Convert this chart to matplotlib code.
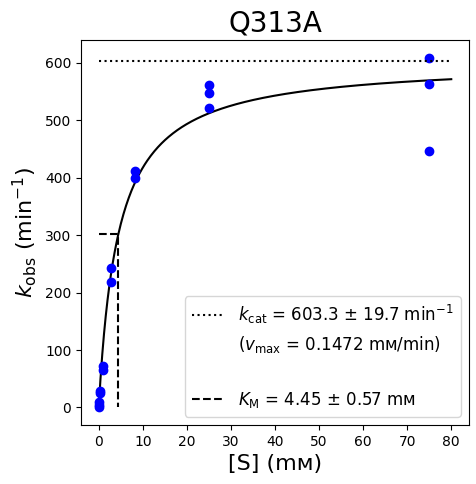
import numpy as np
import matplotlib
matplotlib.use("Agg")
import matplotlib.pyplot as plt

title = "Q313A"
substrate = [0.03, 0.03, 0.1, 0.2, 0.2, 0.9, 0.9, 2.7, 2.7, 8.3, 8.3, 25, 25, 25, 75, 75, 75]
kobs = [0, 5, 10, 26, 28, 66, 73, 219, 243, 400, 412, 522, 548, 562, 447, 563, 609]
kcat = 603.3
kcat_err = 19.7
vmax = 0.1472
KM = 4.45
KM_err = 0.57
x_max = 80

fig = plt.figure(figsize=(4.77, 4.84), dpi=100)
ax = fig.add_axes([0.170, 0.122, 0.813, 0.795])

xs = np.linspace(0, x_max, 400)
ax.plot(xs, kcat * xs / (KM + xs), color="black")
ax.plot(substrate, kobs, "o", color="blue")
l1, = ax.plot([0, x_max], [kcat, kcat], ":", color="black",
              label=r"$k_\mathrm{cat}$ = %.1f ± %.1f min$^{-1}$" % (kcat, kcat_err))
l2, = ax.plot([], [], " ", label=r"($v_\mathrm{max}$ = %.4f mᴍ/min)" % vmax)
l3, = ax.plot([], [], " ", label=" ")
l4, = ax.plot([0, KM, KM], [kcat / 2, kcat / 2, 0], "--", color="black",
              label=r"$K_\mathrm{M}$ = %.2f ± %.2f mᴍ" % (KM, KM_err))

ax.legend(handles=[l1, l2, l3, l4], loc="lower right", fontsize=12)
ax.set_title(title, fontsize=20)
ax.set_xlabel("[S] (mᴍ)", fontsize=16)
ax.set_ylabel(r"$k_\mathrm{obs}$ (min$^{-1}$)", fontsize=16)
ax.set_xticks(range(0, 81, 10))

fig.savefig("out.png", dpi=100)
